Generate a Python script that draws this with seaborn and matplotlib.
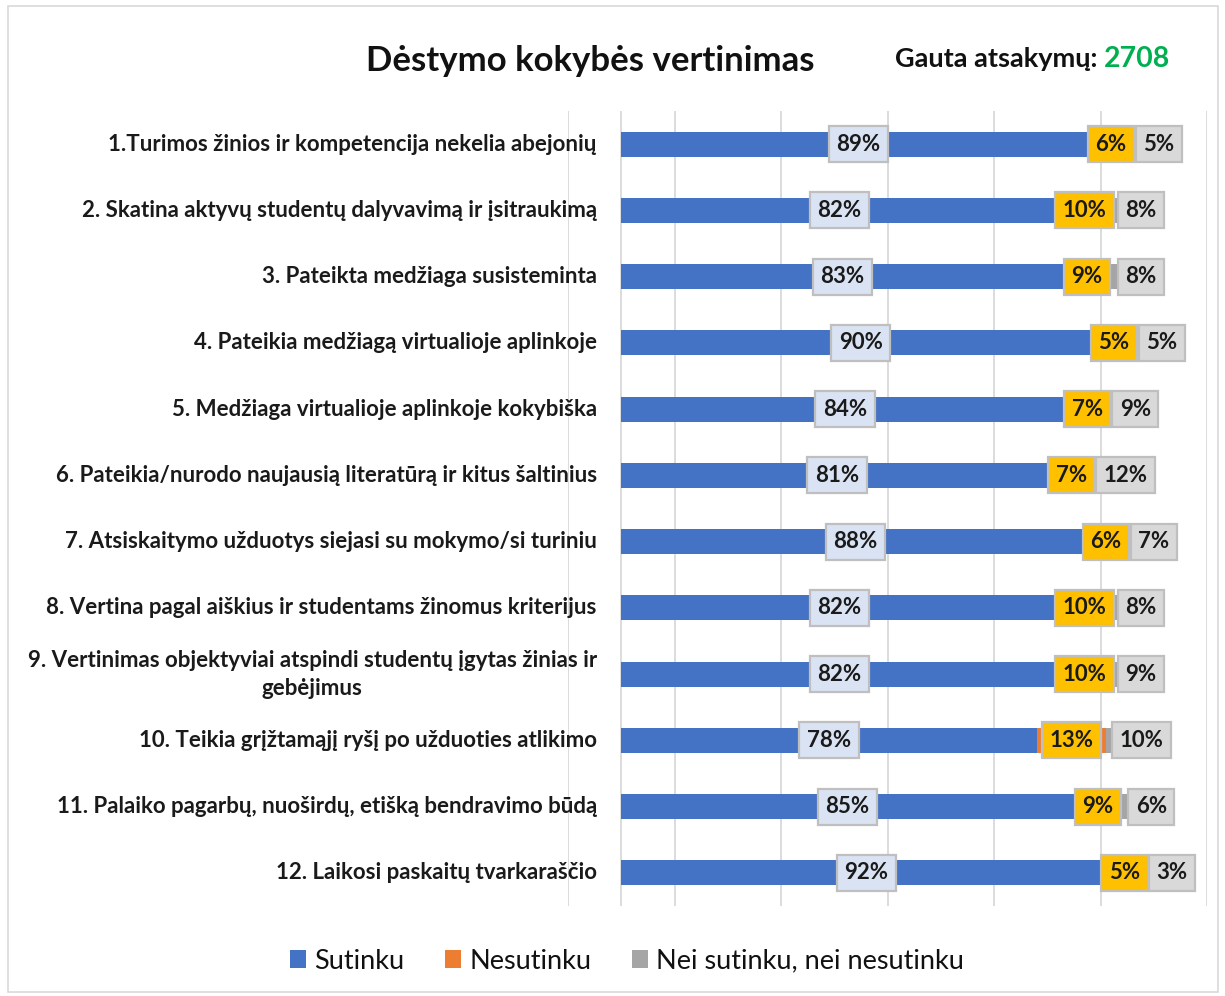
import matplotlib
matplotlib.use("Agg")
import matplotlib.pyplot as plt
from matplotlib.patches import Patch, Rectangle
import seaborn as sns
import pandas as pd
import numpy as np

sns.set_theme(style="white")
plt.rcParams['font.family'] = ['Lato', 'DejaVu Sans']

categories = [
    "1.Turimos žinios ir kompetencija nekelia abejonių",
    "2. Skatina aktyvų studentų dalyvavimą ir įsitraukimą",
    "3. Pateikta medžiaga susisteminta",
    "4. Pateikia medžiagą virtualioje aplinkoje",
    "5. Medžiaga virtualioje aplinkoje kokybiška",
    "6. Pateikia/nurodo naujausią literatūrą ir kitus šaltinius",
    "7. Atsiskaitymo užduotys siejasi su mokymo/si turiniu",
    "8. Vertina pagal aiškius ir studentams žinomus kriterijus",
    "9. Vertinimas objektyviai atspindi studentų įgytas žinias ir\ngebėjimus",
    "10. Teikia grįžtamąjį ryšį po užduoties atlikimo",
    "11. Palaiko pagarbų, nuoširdų, etišką bendravimo būdą",
    "12. Laikosi paskaitų tvarkaraščio",
]
sutinku = [89, 82, 83, 90, 84, 81, 88, 82, 82, 78, 85, 92]
nesutinku = [6, 10, 9, 5, 7, 7, 6, 10, 10, 13, 9, 5]
nei = [5, 8, 8, 5, 9, 12, 7, 8, 9, 10, 6, 3]
series_names = ["Sutinku", "Nesutinku", "Nei sutinku, nei nesutinku"]
title = "Dėstymo kokybės vertinimas"
responses_label = "Gauta atsakymų: "
responses_count = "2708"

BLUE, ORANGE, GRAY = "#4472C4", "#ED7D31", "#A5A5A5"
GOLD = "#FFC000"

df = pd.DataFrame({"cat": categories, "s": sutinku, "n": nesutinku, "g": nei})
df["c1"] = df["s"]
df["c2"] = df["s"] + df["n"]
df["c3"] = df["c2"] + df["g"]

W, H = 1225, 996
fig = plt.figure(figsize=(W / 100, H / 100), dpi=100)
fig.patch.set_facecolor("white")
ax = fig.add_axes([568 / W, 1 - 906 / H, (1207 - 568) / W, (906 - 111) / H])

bh = 0.38
sns.barplot(data=df, y="cat", x="c3", color=GRAY, saturation=1, width=bh, ax=ax, zorder=2, linewidth=0)
sns.barplot(data=df, y="cat", x="c2", color=ORANGE, saturation=1, width=bh, ax=ax, zorder=3, linewidth=0)
sns.barplot(data=df, y="cat", x="c1", color=BLUE, saturation=1, width=bh, ax=ax, zorder=4, linewidth=0)

ax.set_xlim(-10, 110)
ax.set_ylim(len(categories) - 0.5, -0.5)
ax.set_xticks(np.arange(-10, 111, 20))
ax.grid(axis="x", color="#D9D9D9", lw=1.3, zorder=0)
ax.axvline(0, color="#D9D9D9", lw=1.3, zorder=1)
ax.set_xticklabels([])
ax.set_yticklabels([])
ax.set_xlabel("")
ax.set_ylabel("")
ax.tick_params(length=0)
for sp in ax.spines.values():
    sp.set_visible(False)

lab_fs = 16
for i, c in enumerate(categories):
    ax.text(-4.6, i, c, ha="right", va="center", multialignment="center",
            fontsize=lab_fs, fontweight="bold", color="#1a1a1a", zorder=6, linespacing=1.4)

val_fs = 16
box_kw = dict(boxstyle="square,pad=0.34", lw=1.6, ec="#BFBFBF")
gold_texts = []
for i in range(len(categories)):
    s, n, g = sutinku[i], nesutinku[i], nei[i]
    ax.text(s / 2, i, f"{s}%", ha="center", va="center", fontsize=val_fs, fontweight="bold",
            color="#1a1a1a", zorder=7, bbox=dict(fc="#DAE3F3", **box_kw))
    t = ax.text(s + n / 2, i, f"{n}%", ha="center", va="center", fontsize=val_fs, fontweight="bold",
                color="#1a1a1a", zorder=8, bbox=dict(fc=GOLD, **box_kw))
    gold_texts.append(t)

fig.canvas.draw()
r = fig.canvas.get_renderer()
inv = ax.transData.inverted()
for i, t in enumerate(gold_texts):
    ext = t.get_bbox_patch().get_window_extent(r)
    gold_right = inv.transform((ext.x1, ext.y0))[0]
    left = max(gold_right + 0.3, sutinku[i] + nesutinku[i] + 1.2)
    gt = ax.text(left, i, f"{nei[i]}%", ha="left", va="center", fontsize=val_fs, fontweight="bold",
                 color="#1a1a1a", zorder=8, bbox=dict(fc="#D9D9D9", **box_kw))
    fig.canvas.draw()
    e2 = gt.get_bbox_patch().get_window_extent(r)
    bl = inv.transform((e2.x0, e2.y0))[0]
    gt.set_x(left + (left - bl))

fig.text(590 / W, 1 - 61 / H, title, ha="center", va="center", fontsize=25, fontweight="bold", color="#111111")
t1 = fig.text(895 / W, 1 - 59 / H, responses_label, ha="left", va="center", fontsize=19.5, fontweight="bold", color="#111111")
fig.canvas.draw()
e = t1.get_window_extent(r)
fig.text(e.x1 / W, 1 - 59 / H, responses_count, ha="left", va="center", fontsize=20.5, fontweight="bold", color="#00B050")

handles = [Patch(fc=c, ec="none") for c in (BLUE, ORANGE, GRAY)]
fig.legend(handles, series_names, loc="center", bbox_to_anchor=(627 / W, 1 - 961 / H), ncol=3,
           frameon=False, fontsize=19.5, handlelength=0.6, handleheight=0.6, handletextpad=0.3,
           columnspacing=1.5, labelcolor="#111111")

fig.add_artist(Rectangle((8 / W, 4 / H), (1218 - 8) / W, (990 - 4) / H, transform=fig.transFigure,
                         fill=False, ec="#D9D9D9", lw=1.2))

fig.savefig("out.png", dpi=100)
